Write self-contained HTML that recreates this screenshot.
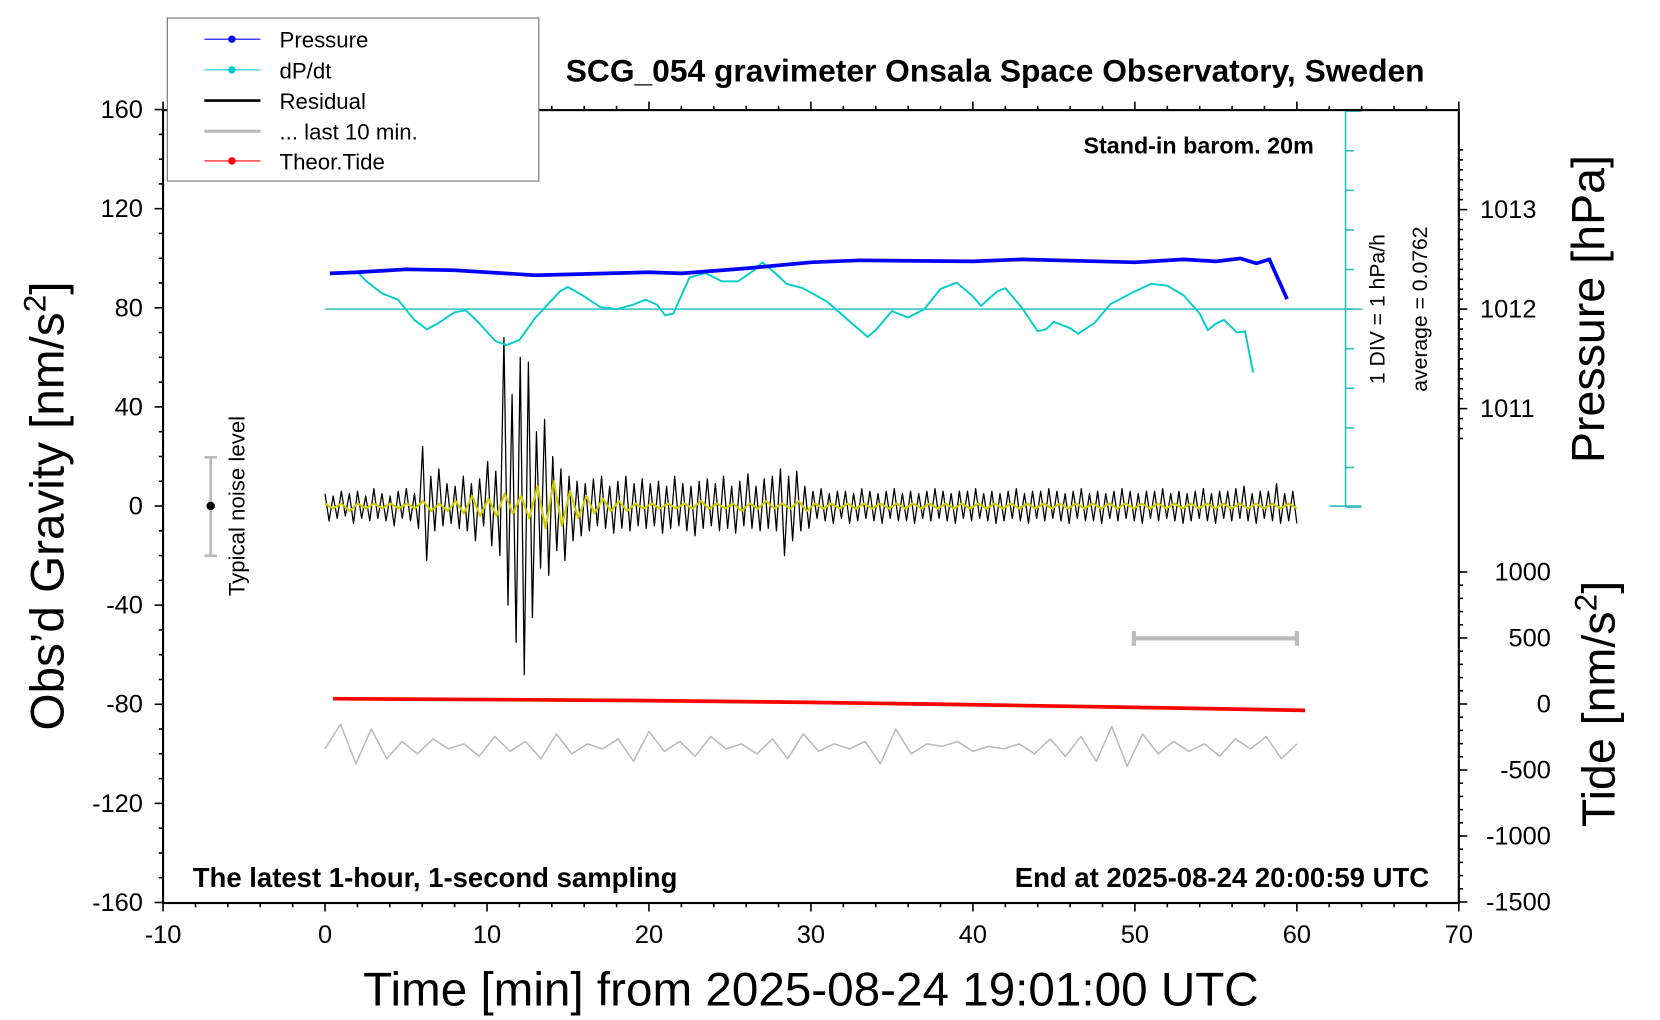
<!DOCTYPE html>
<html><head><meta charset="utf-8"><style>
html,body{margin:0;padding:0;background:#fff;overflow:hidden;}
svg{display:block;font-family:"Liberation Sans",sans-serif;}
</style></head><body>
<svg id="chart" width="1660" height="1020" viewBox="0 0 1568 963.5" xmlns="http://www.w3.org/2000/svg">
<rect x="0" y="0" width="1568" height="963.5" fill="#fff"/>
<g id="plot"></g>
<rect x="154" y="104" width="1224" height="749" fill="none" stroke="#000" stroke-width="2"/>
<text x="940" y="77" text-anchor="middle" font-size="30" font-weight="bold">SCG_054 gravimeter Onsala Space Observatory, Sweden</text>
<text x="1241" y="145" text-anchor="end" font-size="22" font-weight="bold">Stand-in barom. 20m</text>
<text x="182" y="838" font-size="26" font-weight="bold">The latest 1-hour, 1-second sampling</text>
<text x="1350" y="838" text-anchor="end" font-size="26" font-weight="bold">End at 2025-08-24 20:00:59 UTC</text>
<text x="766" y="950" text-anchor="middle" font-size="45">Time [min] from 2025-08-24 19:01:00 UTC</text>
<text transform="translate(60,478) rotate(-90)" text-anchor="middle" font-size="45">Obs’d Gravity [nm/s<tspan dy="-17" font-size="30">2</tspan><tspan dy="17">]</tspan></text>
<text transform="translate(1515,292) rotate(-90)" text-anchor="middle" font-size="44">Pressure [hPa]</text>
<text transform="translate(1525,665) rotate(-90)" text-anchor="middle" font-size="44">Tide [nm/s<tspan dy="-17" font-size="30">2</tspan><tspan dy="17">]</tspan></text>
<text transform="translate(1308,292) rotate(-90)" text-anchor="middle" font-size="20">1 DIV = 1 hPa/h</text>
<text transform="translate(1348,292) rotate(-90)" text-anchor="middle" font-size="20">average = 0.0762</text>
<text transform="translate(231,478) rotate(-90)" text-anchor="middle" font-size="21">Typical noise level</text>
<g stroke="#bbb" stroke-width="2.5">
<line x1="199" y1="432" x2="199" y2="525"/><line x1="193" y1="432" x2="205" y2="432"/><line x1="193" y1="525" x2="205" y2="525"/>
</g>
<circle cx="199" cy="478" r="4" fill="#000"/>
<g stroke="#bbb" stroke-width="4">
<line x1="1071" y1="603" x2="1225" y2="603"/><line x1="1071" y1="596" x2="1071" y2="610"/><line x1="1225" y1="596" x2="1225" y2="610"/>
</g>
<g>
<rect x="158" y="17" width="351" height="154" fill="#fff" stroke="#666" stroke-width="1"/>
<g><line x1="193" y1="37" x2="246" y2="37" stroke="#00f"/><circle cx="219" cy="37" r="3.5" fill="#00f"/><text x="264" y="45" font-size="21">Pressure</text></g>
<g><line x1="193" y1="66" x2="246" y2="66" stroke="#0cc"/><circle cx="219" cy="66" r="3.5" fill="#0cc"/><text x="264" y="74" font-size="21">dP/dt</text></g>
<g><line x1="193" y1="95" x2="246" y2="95" stroke="#000" stroke-width="2.5"/><text x="264" y="103" font-size="21">Residual</text></g>
<g><line x1="193" y1="124" x2="246" y2="124" stroke="#bbb" stroke-width="3"/><text x="264" y="132" font-size="21">... last 10 min.</text></g>
<g><line x1="193" y1="152" x2="246" y2="152" stroke="#f00"/><circle cx="219" cy="152" r="3.5" fill="#f00"/><text x="264" y="160" font-size="21">Theor.Tide</text></g>
</g>
</svg>
<script>
const xTicks=[-10,0,10,20,30,40,50,60,70];
const gTicks=[160,120,80,40,0,-40,-80,-120,-160];
const pTicks=[1013,1012,1011];
const tideTicks=[1000,500,0,-500,-1000,-1500];
const pressureT=[0.3,2,5,8,13,20,22,26,30,33,40,43,50,53,55,56.5,57.5,58.3,59.4];
const pressureV=[1012.36,1012.37,1012.40,1012.39,1012.34,1012.37,1012.36,1012.41,1012.47,1012.49,1012.48,1012.50,1012.47,1012.50,1012.48,1012.51,1012.46,1012.50,1012.10];
const dpdtT=[2,2.5,3.5,4.5,5.5,6.3,7,8,8.7,9.5,10.5,11.2,12,13,14.5,15,16,17,18,19,19.8,20.5,21,21.5,22.5,23.5,24.5,25.5,26.5,27,27.8,28.5,29.5,31,32.5,33.5,34,35,36,37,38,39,40,40.5,41.5,42,43,44,44.5,45,46,46.5,47.5,48.5,50,51,52,53,54,54.5,55,55.5,56.3,56.8,57.3];
const dpdtV=[0.94,0.72,0.40,0.24,-0.27,-0.51,-0.35,-0.08,-0.03,-0.35,-0.80,-0.91,-0.78,-0.21,0.45,0.56,0.32,0.05,0,0.11,0.24,0.11,-0.16,-0.11,0.80,0.91,0.70,0.70,0.99,1.18,0.91,0.64,0.53,0.19,-0.35,-0.70,-0.53,-0.05,-0.21,0,0.51,0.67,0.32,0.08,0.45,0.53,0.05,-0.56,-0.51,-0.32,-0.48,-0.62,-0.35,0.13,0.45,0.64,0.59,0.35,-0.11,-0.53,-0.37,-0.27,-0.59,-0.56,-1.60];
const residualV=[5,-6,4,-5,6,-4,5,-7,6,-5,4,-6,7,-5,5,-6,4,-8,6,-5,7,-6,5,-9,
24,-22,12,-10,15,-8,9,-7,8,-9,12,-10,9,-14,11,-8,18,-16,14,-20,68,-40,45,-55,60,-68,58,-45,30,-25,35,-28,
20,-18,15,-22,12,-14,10,-12,9,-10,11,-8,12,-9,8,-11,10,-9,12,-10,9,-8,11,-9,
9,-8,10,-11,8,-9,12,-8,9,-10,8,-12,10,-9,11,-8,9,-10,12,-9,8,-11,10,-8,13,-9,8,-10,11,-9,12,-10,
15,-20,12,-14,14,-10,8,-9,
6,-5,7,-6,5,-7,6,-5,6,-7,5,-6,7,-5,6,-6,5,-7,6,-5,7,-6,5,-6,6,-7,5,-5,6,-6,
7,-5,6,-6,5,-7,6,-5,6,-6,7,-5,5,-6,6,-7,5,-6,6,-5,7,-6,5,-7,6,-5,6,-6,7,-5,
6,-6,5,-7,6,-5,7,-6,5,-6,6,-7,5,-5,6,-6,7,-5,6,-6,5,-7,6,-5,6,-6,7,-5,5,-6,
6,-7,5,-6,6,-5,7,-6,5,-7,6,-5,6,-6,7,-5,8,-6,5,-7,6,-5,6,-6,9,-7,5,-6,6,-7];
const filteredV=[1,-1,1,-2,1,-1,1,-1,1,-1,1,-1,2,-2,1,-2,2,-3,4,-4,3,-4,5,-3,4,-5,8,-9,10,-8,6,-5,4,-3,3,-2,2,-2,1,-1,
1,-1,1,-1,1,-1,2,-1,1,-1,1,-2,1,-1,2,-1,1,-1,2,-2,1,-1,1,-1,1,-1,1,-1,1,-1,1,-1,1,-1,1,-1,1,-1,1,-1,
1,-1,1,-1,1,-1,1,-1,1,-1,1,-1,1,-1,1,-1,1,-1,1,-1,1,-1,1,-1,1,-1,1,-1,1,-1,1,-1,1,-1,1,-1,1,-1,1,-1];
const last10V=[-98,-88,-104,-90,-102,-95,-100,-94,-98,-96,-101,-93,-99,-95,-102,-92,-100,-96,-98,-94,-103,-91,-99,-95,-101,-93,-98,-96,-100,-94,
-102,-92,-99,-96,-98,-95,-104,-90,-100,-96,-97,-95,-99,-97,-98,-96,-100,-94,-101,-93,-103,-89,-105,-92,-100,-95,-99,-96,-101,-94,-98,-93,-102,-96];
const tideT=[0.5,10,20,30,40,50,60.5];
const tideV=[40,34,26,12,-6,-26,-48];

const NS='http://www.w3.org/2000/svg';
const plot=document.getElementById('plot');
const X=t=>307+t*15.3;
const Yg=g=>478-g*749/320;
const Yp=p=>292-(p-1012)*94;
const Yd=v=>292-v*37.4;
const Yt=v=>665-v*124.7/1000;
function mk(tag,attrs,parent){const e=document.createElementNS(NS,tag);for(const k in attrs)e.setAttribute(k,attrs[k]);(parent||plot).appendChild(e);return e;}
function poly(pts,stroke,w,name){
  const e=mk('polyline',{points:pts.map(p=>p[0].toFixed(1)+','+p[1].toFixed(1)).join(' '),fill:'none',stroke:stroke,'stroke-width':w,'stroke-linejoin':'round'});
  
  
  return e;
}
const axes=mk('g',{stroke:'#000','stroke-width':1.5});


for(let t=-10;t<=70;t+=2){const maj=t%10===0;mk('line',{x1:X(t),x2:X(t),y1:853,y2:853+(maj?8:4)},axes);mk('line',{x1:X(t),x2:X(t),y1:104,y2:104-(maj?8:4)},axes);}
for(let g=-160;g<=160;g+=10){const maj=g%40===0;mk('line',{x1:154,x2:154-(maj?8:4),y1:Yg(g),y2:Yg(g)},axes);}
for(let p=1010.7;p<=1013.65;p+=0.1){const maj=Math.abs(p-Math.round(p))<0.01;mk('line',{x1:1378,x2:1378+(maj?8:4),y1:Yp(p),y2:Yp(p)},axes);}
for(let v=-1500;v<=1000;v+=100){const maj=v%500===0;mk('line',{x1:1378,x2:1378+(maj?8:4),y1:Yt(v),y2:Yt(v)},axes);}
xTicks.forEach(t=>{const e=mk('text',{x:X(t),y:891,'text-anchor':'middle','font-size':24});e.textContent=t;});
gTicks.forEach(g=>{const e=mk('text',{x:135,y:Yg(g)+8,'text-anchor':'end','font-size':24});e.textContent=g;});
pTicks.forEach(p=>{const e=mk('text',{x:1398,y:Yp(p)+8,'font-size':24});e.textContent=p;});
tideTicks.forEach(v=>{const e=mk('text',{x:1465,y:Yt(v)+8,'text-anchor':'end','font-size':24});e.textContent=v;});
const da=mk('g',{stroke:'#3bb','stroke-width':1.5});


mk('line',{x1:1271,x2:1271,y1:104,y2:478},da);
for(let i=0;i<=10;i++){const y=Yd(5-i);mk('line',{x1:1271,x2:1271+(i===0||i===10?15:8),y1:y,y2:y},da);}
mk('line',{x1:1256,x2:1286,y1:478,y2:478},da);
const zl=mk('line',{x1:307,x2:1287,y1:Yd(0),y2:Yd(0),stroke:'#3bb','stroke-width':1.5});


poly(last10V.map((v,i)=>[X(i*60/(last10V.length-1)),Yg(v)]),'#bbb',1.5,'last-10-min-line');
poly(tideT.map((t,i)=>[X(t),Yt(tideV[i])]),'#f00',3.5,'theor-tide-line');
poly(residualV.map((v,i)=>[X(i*60/(residualV.length-1)),Yg(v)]),'#000',1.2,'residual-line');
poly(filteredV.map((v,i)=>[X(i*60/(filteredV.length-1)),Yg(v)]),'#cc0',2,'residual-filtered-line');
poly(dpdtT.map((t,i)=>[X(t),Yd(dpdtV[i])]),'#0cc',1.8,'dpdt-line');
poly(pressureT.map((t,i)=>[X(t),Yp(pressureV[i])]),'#00f',3.5,'pressure-line');
</script>
</body></html>
